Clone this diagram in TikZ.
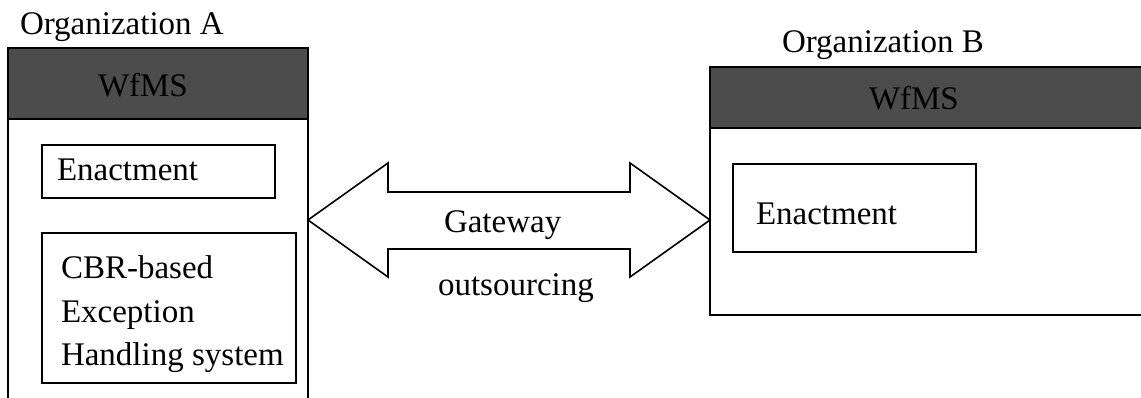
\documentclass[tikz,border=0pt]{standalone}
\usepackage{fontspec}
\setmainfont{Liberation Serif}
\begin{document}
\begin{tikzpicture}[x=1pt,y=-1pt,
  every node/.style={inner sep=0pt, outer sep=0pt},
  txt/.style={anchor=base west, font=\fontsize{33}{39}\selectfont},
  frame/.style={draw=black, line width=1.8pt},
  header/.style={draw=black, line width=1.8pt, fill=black!70},
  inbox/.style={draw=black, line width=1.6pt, fill=white}]
\useasboundingbox (0,0) rectangle (1141,398);
\clip (0,0) rectangle (1141,398);
\fill[white] (0,0) rectangle (1141,398);
% Organization A
\node[txt] (labA) at (20,35) {Organization A};
\node[frame, anchor=north west, minimum width=300pt, minimum height=400pt] (orgA) at (8,48) {};
\node[header, anchor=north west, minimum width=300pt, minimum height=71pt] (hdrA) at (8,48) {};
\node[txt] (wfA) at (98,97) {WfMS};
\node[inbox, anchor=north west, minimum width=233pt, minimum height=53pt] (enA) at (42,145) {};
\node[txt] (enAt) at (57,181) {Enactment};
\node[inbox, anchor=north west, minimum width=254pt, minimum height=150pt] (cbr) at (42,233) {};
\node[txt] (cbr1) at (61,279) {CBR-based};
\node[txt] (cbr2) at (61,322) {Exception};
\node[txt] (cbr3) at (61,365) {Handling system};
% Organization B
\node[txt] (labB) at (782,53) {Organization B};
\node[frame, anchor=north west, minimum width=460pt, minimum height=248pt] (orgB) at (710,67) {};
\node[header, anchor=north west, minimum width=460pt, minimum height=61pt] (hdrB) at (710,67) {};
\node[txt] (wfB) at (869,110) {WfMS};
\node[inbox, anchor=north west, minimum width=243pt, minimum height=88pt] (enB) at (733,164) {};
\node[txt] (enBt) at (756,225) {Enactment};
% double arrow between the organizations
\coordinate (tipA) at (orgA.east |- 0,220);
\coordinate (tipB) at (orgB.west |- 0,220);
\draw[line width=1.6pt, line join=miter, fill=white]
  (tipA) -- ++(80,-57) -- ++(0,29) -- (630,192) -- (630,163)
  -- (tipB) -- (630,277) -- (630,249) -- (388,249) -- (388,277) -- cycle;
\node[txt] (gw) at (444,233) {Gateway};
\node[txt] (out) at (438,295) {outsourcing};
\end{tikzpicture}
\end{document}
